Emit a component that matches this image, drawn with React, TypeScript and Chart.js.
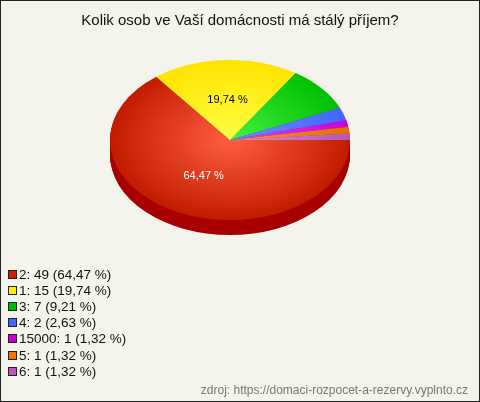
import React, { useEffect, useRef } from "react";
import { Chart, registerables } from "chart.js";

Chart.register(...registerables);

const TITLE = "Kolik osob ve Vaší domácnosti má stálý příjem?";
const SOURCE = "zdroj: https://domaci-rozpocet-a-rezervy.vyplnto.cz";
const categories = ["2", "1", "3", "4", "15000", "5", "6"];
const counts = [49, 15, 7, 2, 1, 1, 1];
const percents = ["64,47", "19,74", "9,21", "2,63", "1,32", "1,32", "1,32"];
const lightColors = ["#ff5e40", "#ffff44", "#44f244", "#6a8cff", "#e444f0", "#ff9428", "#dc88dc"];
const darkColors = ["#c21c00", "#ffe400", "#00bf00", "#4466ff", "#cc00dd", "#e07000", "#bb55bb"];
const sideColors = ["#a80000", "#c8b400", "#008800", "#2244bb", "#8a0099", "#a04e00", "#884088"];
const legendColors = ["#cc2200", "#ffee00", "#00bb00", "#4466ff", "#cc00cc", "#ee7700", "#bb55bb"];
const labelColors = ["#ffffff", "#000000"];

const SQUASH = 0.667;
const DEPTH = 15;

const pie3d = {
  id: "pie3d",
  beforeDatasetsDraw(chart: any) {
    const ctx = chart.ctx;
    const meta = chart.getDatasetMeta(0);
    const arcs = meta.data;
    if (!arcs.length) return;
    const cx = arcs[0].x;
    const cy = arcs[0].y;
    for (let d = DEPTH; d >= 1; d--) {
      ctx.save();
      ctx.translate(0, d);
      ctx.translate(cx, cy);
      ctx.scale(1, SQUASH);
      ctx.translate(-cx, -cy);
      arcs.forEach((a: any, i: number) => {
        ctx.beginPath();
        ctx.moveTo(a.x, a.y);
        ctx.arc(a.x, a.y, a.outerRadius, a.startAngle, a.endAngle);
        ctx.closePath();
        ctx.fillStyle = sideColors[i];
        ctx.fill();
      });
      ctx.restore();
    }
    ctx.save();
    ctx.translate(cx, cy);
    ctx.scale(1, SQUASH);
    ctx.translate(-cx, -cy);
  },
  afterDatasetsDraw(chart: any) {
    const ctx = chart.ctx;
    ctx.restore();
    const meta = chart.getDatasetMeta(0);
    const arcs = meta.data;
    ctx.save();
    ctx.font = "11px 'Liberation Sans', Arial, sans-serif";
    ctx.textAlign = "center";
    ctx.textBaseline = "middle";
    arcs.forEach((a: any, i: number) => {
      if (i >= labelColors.length) return;
      const mid = (a.startAngle + a.endAngle) / 2;
      const r = a.outerRadius * 0.5;
      const x = a.x + r * Math.cos(mid);
      const y = a.y + r * Math.sin(mid) * SQUASH;
      ctx.fillStyle = labelColors[i];
      ctx.fillText(percents[i] + " %", x, y);
    });
    ctx.restore();
  },
};

export default function App() {
  const ref = useRef<HTMLCanvasElement>(null);
  useEffect(() => {
    document.body.style.margin = "0";
    const chart = new Chart(ref.current!, {
      type: "pie",
      data: {
        labels: categories,
        datasets: [
          {
            data: counts,
            borderWidth: 0,
            hoverOffset: 0,
            offset: 0,
            backgroundColor: (c: any) => {
              const ch = c.chart;
              const area = ch.chartArea;
              const i = c.dataIndex;
              if (!area) return darkColors[i];
              const cx = (area.left + area.right) / 2;
              const cy = (area.top + area.bottom) / 2;
              const g = ch.ctx.createRadialGradient(cx, cy, 0, cx, cy, 120);
              g.addColorStop(0, lightColors[i]);
              g.addColorStop(1, darkColors[i]);
              return g;
            },
          } as any,
        ],
      },
      options: {
        animation: false,
        responsive: false,
        rotation: 90,
        radius: 120,
        layout: { padding: { left: 110, right: 130, top: 20, bottom: 142 } },
        plugins: {
          legend: { display: false },
          tooltip: { enabled: false },
          title: { display: false },
        },
        events: [],
      } as any,
      plugins: [pie3d],
    });
    return () => chart.destroy();
  }, []);

  const font = "'Liberation Sans', Arial, sans-serif";
  return (
    <div style={{ position: "relative", width: 480, height: 402, background: "#f4f4ec", fontFamily: font, overflow: "hidden" }}>
      <canvas ref={ref} width={480} height={402} style={{ position: "absolute", left: 0, top: 0 }} />
      <div style={{ position: "absolute", left: 0, top: 10, width: 480, textAlign: "center", fontSize: 15, color: "#111", lineHeight: "20px" }}>
        {TITLE}
      </div>
      <div style={{ position: "absolute", left: 8, top: 266 }}>
        {categories.map((c, i) => (
          <div key={c} style={{ display: "flex", alignItems: "center", height: 16.2, fontSize: 13.5, color: "#111", whiteSpace: "nowrap" }}>
            <span style={{ display: "inline-block", width: 7, height: 7, border: "1px solid #222", background: legendColors[i], marginRight: 2 }} />
            <span>{`${c}: ${counts[i]} (${percents[i]} %)`}</span>
          </div>
        ))}
      </div>
      <div style={{ position: "absolute", right: 12, top: 382, fontSize: 12, color: "#777", lineHeight: "16px", whiteSpace: "nowrap" }}>
        {SOURCE}
      </div>
      <div style={{ position: "absolute", left: 0, top: 0, width: 480, height: 402, boxSizing: "border-box", border: "1px solid #222", pointerEvents: "none" }} />
    </div>
  );
}
